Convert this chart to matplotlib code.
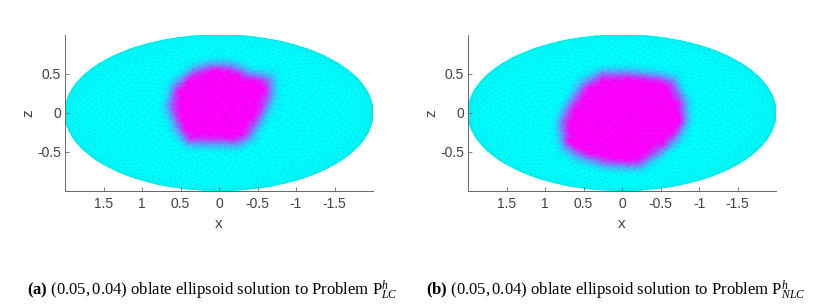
import numpy as np
import matplotlib
matplotlib.use("Agg")
from matplotlib import pyplot as plt
from matplotlib.path import Path
from matplotlib.tri import Triangulation

plt.rcParams["font.family"] = "Liberation Sans"
plt.rcParams["mathtext.fontset"] = "custom"
plt.rcParams["mathtext.rm"] = "Liberation Serif"
plt.rcParams["mathtext.it"] = "Liberation Serif:italic"
plt.rcParams["mathtext.bf"] = "Liberation Serif:bold"

# outline of the magenta region
lc_blob_x = [0.593, 0.528, 0.29, 0.074, -0.143, -0.381, -0.619, -0.619, -0.511, -0.359, -0.229, 0.377, 0.506]
lc_blob_z = [0.078, 0.316, 0.511, 0.563, 0.554, 0.446, 0.403, 0.208, -0.03, -0.268, -0.346, -0.333, -0.139]
nlc_blob_x = [0.74, 0.654, 0.459, 0.242, -0.061, -0.407, -0.623, -0.753, -0.775, -0.667, -0.407, -0.19, 0.199, 0.545, 0.697]
nlc_blob_z = [-0.139, 0.056, 0.338, 0.459, 0.459, 0.424, 0.381, 0.121, -0.095, -0.29, -0.506, -0.636, -0.615, -0.506, -0.398]

x_ticks = [1.5, 1, 0.5, 0, -0.5, -1, -1.5]
x_tick_labels = ["1.5", "1", "0.5", "0", "-0.5", "-1", "-1.5"]
z_ticks = [-0.5, 0, 0.5]
z_tick_labels = ["-0.5", "0", "0.5"]

caption_a = r"$\mathbf{(a)}$ $\mathrm{(0.05,0.04)}$ oblate ellipsoid solution to Problem $\mathrm{P}_{LC}^{h}$"
caption_b = r"$\mathbf{(b)}$ $\mathrm{(0.05,0.04)}$ oblate ellipsoid solution to Problem $\mathrm{P}_{NLC}^{h}$"

TEXT_COLOR = "#404040"
AXIS_COLOR = "#666666"
W, H = 836, 305


def make_mesh(n=1700, n_rim=170):
    # front half of the ellipsoid, seen along y
    i = np.arange(n)
    depth = (i + 0.5) / n
    r = np.sqrt(1 - depth**2)
    angle = i * np.pi * (3 - np.sqrt(5))
    rim = np.linspace(0, 2 * np.pi, n_rim, endpoint=False)
    x = np.r_[2 * r * np.cos(angle), 2 * np.cos(rim)]
    z = np.r_[r * np.sin(angle), np.sin(rim)]
    return Triangulation(x, z)


def blob_field(tri, blob_x, blob_z, fade=0.17):
    outline = np.column_stack([blob_x, blob_z])
    pts = np.column_stack([tri.x, tri.y])
    inside = Path(outline).contains_points(pts)
    # distance to the nearest outline segment
    a = outline
    b = np.roll(outline, -1, axis=0)
    dist = np.full(len(pts), np.inf)
    for p, q in zip(a, b):
        t = np.clip(((pts - p) @ (q - p)) / ((q - p) @ (q - p)), 0, 1)
        d = np.hypot(*(pts - (p + t[:, None] * (q - p))).T)
        dist = np.minimum(dist, d)
    field = np.clip(1 - dist / fade, 0, 1) ** 1.5 * 0.8
    field[inside] = np.clip(0.8 + dist[inside] / 0.04, 0, 1)
    return field


def draw_panel(ax, tri, blob_x, blob_z):
    ax.tripcolor(tri, blob_field(tri, blob_x, blob_z), shading="gouraud", cmap="cool", vmin=0, vmax=1)
    ax.triplot(tri, color="#003030", lw=0.3, alpha=0.1)
    ax.set_xlim(2, -2)
    ax.set_ylim(-1, 1)
    ax.set_xticks(x_ticks, x_tick_labels)
    ax.set_yticks(z_ticks, z_tick_labels)
    ax.tick_params(direction="in", length=3, width=0.6, color=AXIS_COLOR, labelcolor=TEXT_COLOR, labelsize=10)
    ax.tick_params(axis="x", pad=5)
    ax.tick_params(axis="y", pad=3)
    ax.spines["top"].set_visible(False)
    ax.spines["right"].set_visible(False)
    ax.spines["left"].set_color(AXIS_COLOR)
    ax.spines["bottom"].set_color(AXIS_COLOR)
    ax.spines["left"].set_linewidth(0.7)
    ax.spines["bottom"].set_linewidth(0.7)
    ax.set_xlabel("x", color=TEXT_COLOR, fontsize=11, labelpad=4)
    ax.set_ylabel("z", color=TEXT_COLOR, fontsize=11, labelpad=1)


fig = plt.figure(figsize=(W / 100, H / 100), dpi=100)
ax_a = fig.add_axes([65 / W, 1 - 190.5 / H, 308 / W, 155.5 / H])
ax_b = fig.add_axes([468 / W, 1 - 190.5 / H, 308 / W, 155.5 / H])
mesh = make_mesh()
draw_panel(ax_a, mesh, lc_blob_x, lc_blob_z)
draw_panel(ax_b, mesh, nlc_blob_x, nlc_blob_z)

fig.text(27 / W, 1 - 295 / H, caption_a, fontsize=12, family="Liberation Serif", color="black", va="baseline")
fig.text(426 / W, 1 - 295 / H, caption_b, fontsize=12, family="Liberation Serif", color="black", va="baseline")

fig.savefig("out.png", dpi=100)
